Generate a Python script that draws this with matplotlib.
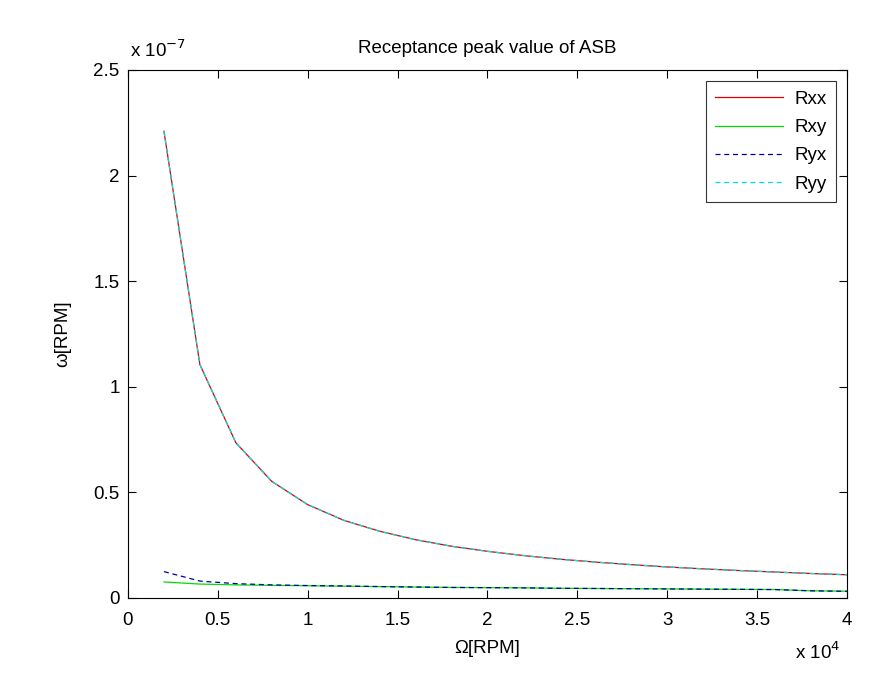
import matplotlib
matplotlib.use("Agg")
import matplotlib.pyplot as plt
import numpy as np

plt.rcParams['font.family'] = ['Liberation Sans', 'DejaVu Sans']

speed = [2000, 4000, 6000, 8000, 10000, 12000, 14000, 16000, 18000, 20000,
         22000, 24000, 26000, 28000, 30000, 32000, 34000, 36000, 38000, 40000]
rxx = [2.21, 1.105, 0.735, 0.552, 0.442, 0.368, 0.316, 0.276, 0.245, 0.221,
       0.201, 0.184, 0.170, 0.158, 0.147, 0.138, 0.130, 0.123, 0.116, 0.110]
rxy = [0.076, 0.066, 0.062, 0.060, 0.058, 0.056, 0.054, 0.052, 0.050, 0.049,
       0.048, 0.046, 0.045, 0.044, 0.043, 0.042, 0.041, 0.040, 0.034, 0.032]
ryx = [0.125, 0.080, 0.068, 0.062, 0.059, 0.057, 0.054, 0.052, 0.050, 0.049,
       0.048, 0.046, 0.045, 0.044, 0.043, 0.042, 0.041, 0.040, 0.034, 0.032]
ryy = [2.21, 1.105, 0.735, 0.552, 0.442, 0.368, 0.316, 0.276, 0.245, 0.221,
       0.201, 0.184, 0.170, 0.158, 0.147, 0.138, 0.130, 0.123, 0.116, 0.110]

x = np.array(speed) / 1e4

FS = 13.5
fig = plt.figure(figsize=(8.87, 6.77), dpi=100)
ax = fig.add_axes([128/887, 79/677, 719/887, 528/677])

ax.plot(x, rxx, color='#e00000', lw=0.9, label='Rxx')
ax.plot(x, rxy, color='#00dd00', lw=0.9, label='Rxy')
ax.plot(x, ryx, color='#0000a0', lw=0.9, ls=(0, (4, 3)), label='Ryx')
ax.plot(x, ryy, color='#00e0e0', lw=0.9, ls=(0, (4, 3)), label='Ryy')

ax.set_xlim(0, 4)
ax.set_ylim(0, 2.5)
ax.set_xticks([0, 0.5, 1, 1.5, 2, 2.5, 3, 3.5, 4])
ax.set_xticklabels(['0', '0.5', '1', '1.5', '2', '2.5', '3', '3.5', '4'])
ax.set_yticks([0, 0.5, 1, 1.5, 2, 2.5])
ax.set_yticklabels(['0', '0.5', '1', '1.5', '2', '2.5'])
ax.tick_params(direction='in', length=6, width=0.8, top=True, right=True,
               labelsize=FS)
ax.tick_params(axis='x', pad=10)
ax.tick_params(axis='y', pad=6)
for s in ax.spines.values():
    s.set_linewidth(0.8)

ax.set_title('Receptance peak value of ASB', fontsize=FS, pad=12)
ax.set_xlabel('Ω[RPM]', fontsize=FS, labelpad=8)
ax.set_ylabel('ω[RPM]', fontsize=FS, labelpad=16)

fig.text(130/887, 1 - 50/677, r'x 10$^{-7}$', fontsize=FS, ha='left', va='center')
fig.text(795/887, 1 - 652/677, r'x 10$^{4}$', fontsize=FS, ha='left', va='center')

leg = ax.legend(loc='upper right', fontsize=FS, frameon=True, fancybox=False,
                edgecolor='black', handlelength=3.6, borderpad=0.5,
                labelspacing=0.6, handletextpad=0.6, borderaxespad=0.6)
leg.get_frame().set_linewidth(0.8)

fig.savefig('out.png', dpi=100)
